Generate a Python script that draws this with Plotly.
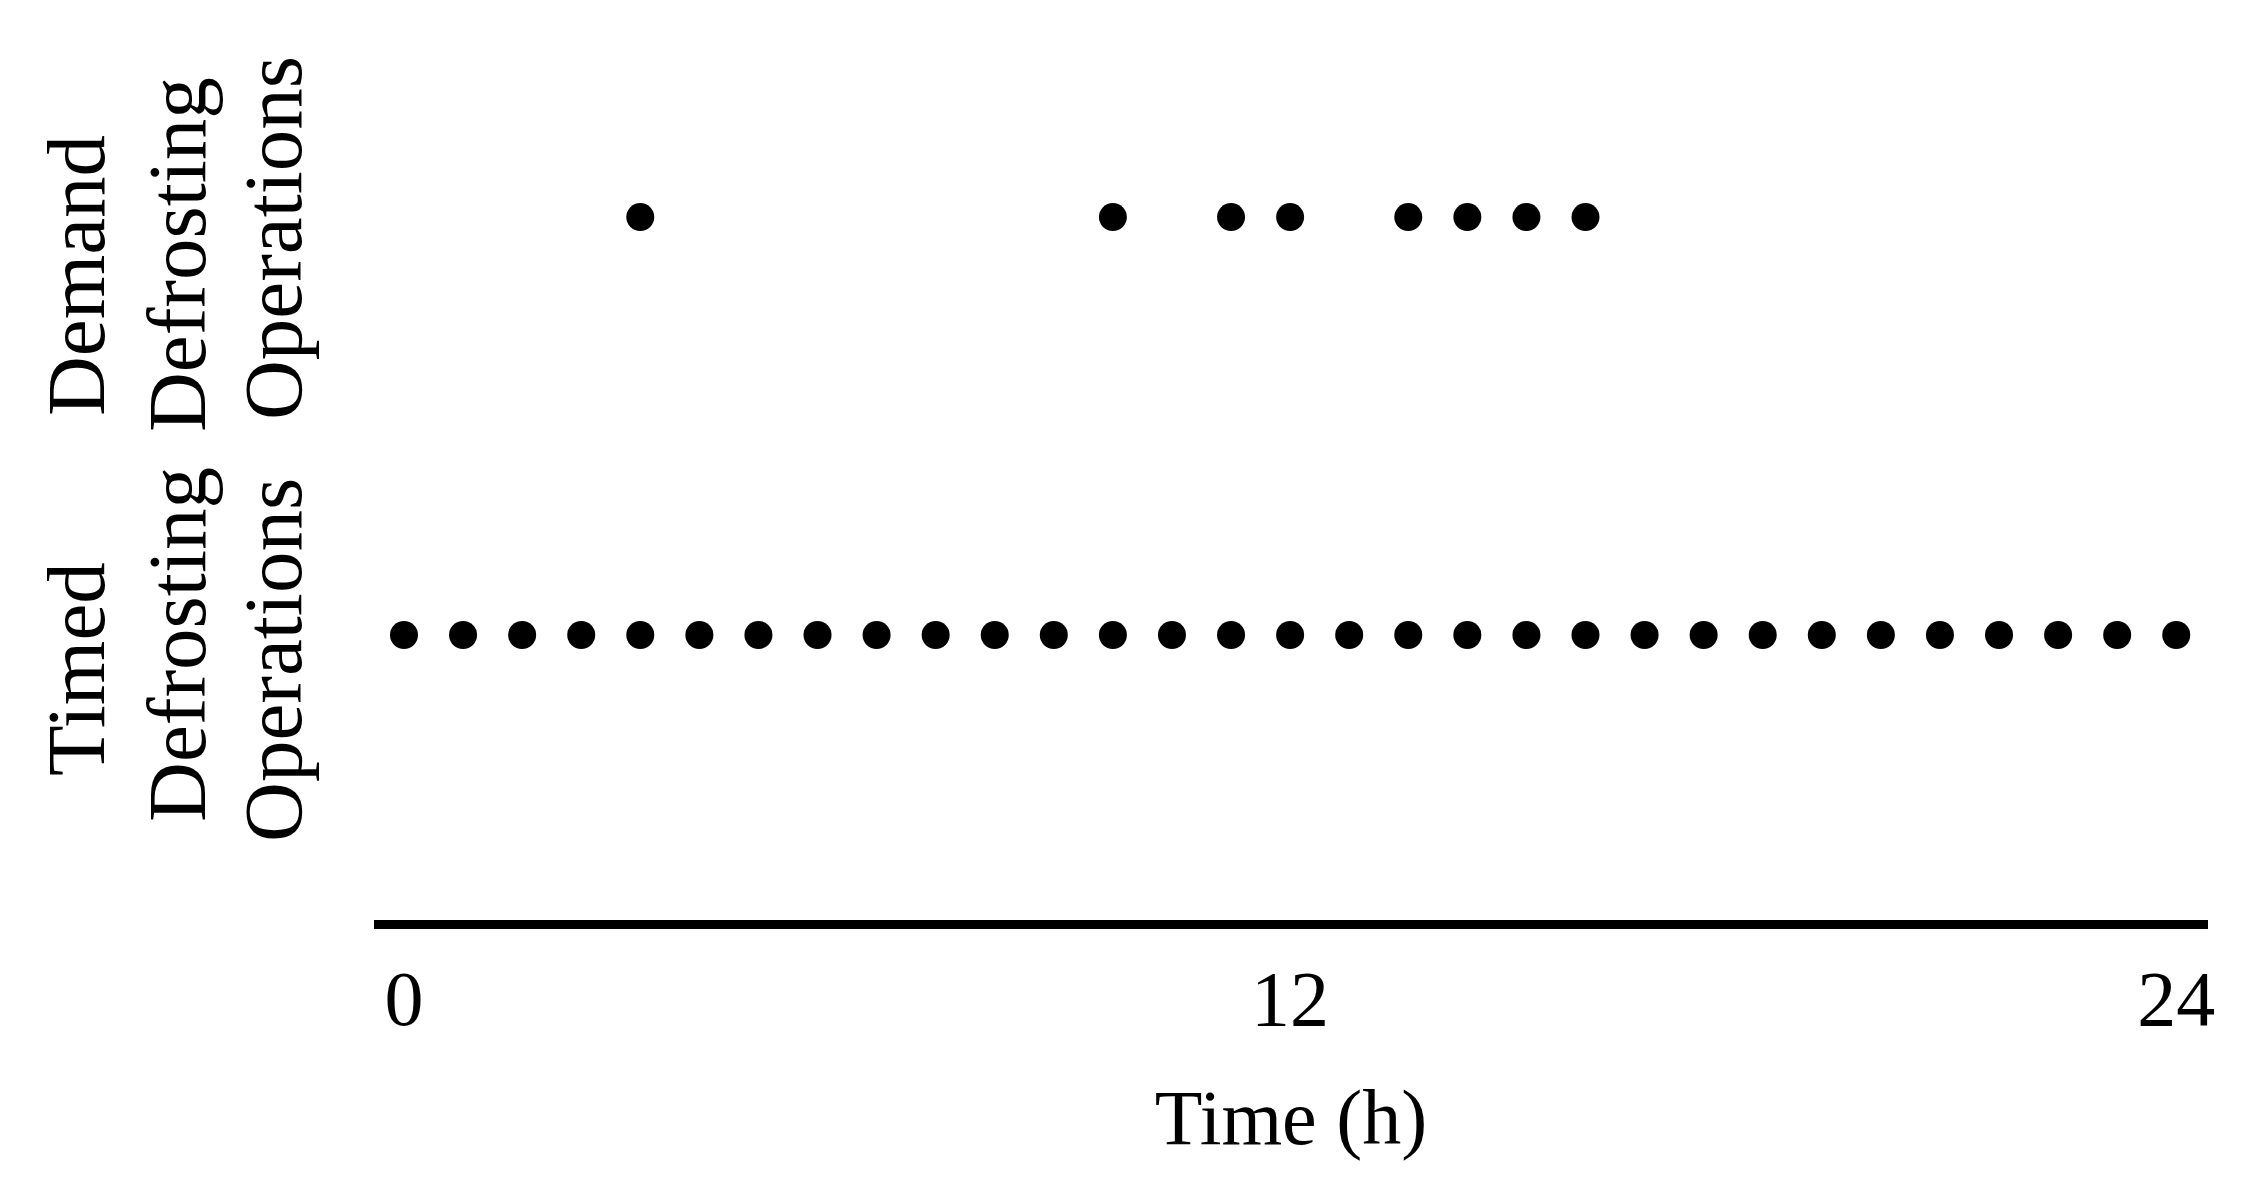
import plotly.graph_objects as go

# timed defrost every 0.8 h over the day, demand defrost only when needed
timed_hours = [0, 0.8, 1.6, 2.4, 3.2, 4.0, 4.8, 5.6, 6.4, 7.2, 8.0, 8.8, 9.6, 10.4,
               11.2, 12.0, 12.8, 13.6, 14.4, 15.2, 16.0, 16.8, 17.6, 18.4, 19.2,
               20.0, 20.8, 21.6, 22.4, 23.2, 24.0]
demand_hours = [3.2, 9.6, 11.2, 12.0, 13.6, 14.4, 15.2, 16.0]

rows = [["Timed", "Defrosting", "Operations"],
        ["Demand", "Defrosting", "Operations"]]
x_ticks = [0, 12, 24]

fig = go.Figure()
fig.add_trace(go.Scatter(x=timed_hours, y=[0] * len(timed_hours), mode="markers",
                         marker=dict(color="black", size=28)))
fig.add_trace(go.Scatter(x=demand_hours, y=[1] * len(demand_hours), mode="markers",
                         marker=dict(color="black", size=28)))

# row labels, rotated, one annotation per line so spacing can be matched
# (page has an 8px body margin, figure sized 8px smaller to fit)
line_x = [-298, -197, -101]
line_dy = [[-34, -10, -25], [-59, -38, -21]]
for i, lines in enumerate(rows):
    for j, word in enumerate(lines):
        fig.add_annotation(text=word, textangle=-90, xref="paper", yref="y",
                           x=0, xshift=line_x[j], y=i, yshift=line_dy[i][j],
                           xanchor="center", yanchor="middle", showarrow=False,
                           font=dict(family="Liberation Serif", size=83, color="black"))

fig.update_layout(
    width=2234, height=1182,
    margin=dict(l=366, r=34, t=1, b=270),
    plot_bgcolor="white", paper_bgcolor="white",
    showlegend=False,
    font=dict(family="Liberation Serif", color="black"),
)
fig.update_xaxes(range=[-0.406, 24.43], tickvals=x_ticks, ticks="",
                 showgrid=False, zeroline=False,
                 showline=True, linewidth=9, linecolor="black",
                 tickfont=dict(size=78), ticklabelstandoff=2,
                 title=dict(text="Time (h)", font=dict(size=78), standoff=52))
fig.update_yaxes(range=[-0.682, 1.498], showticklabels=False, ticks="",
                 showgrid=False, zeroline=False, showline=False)

fig.write_html("out.html")
